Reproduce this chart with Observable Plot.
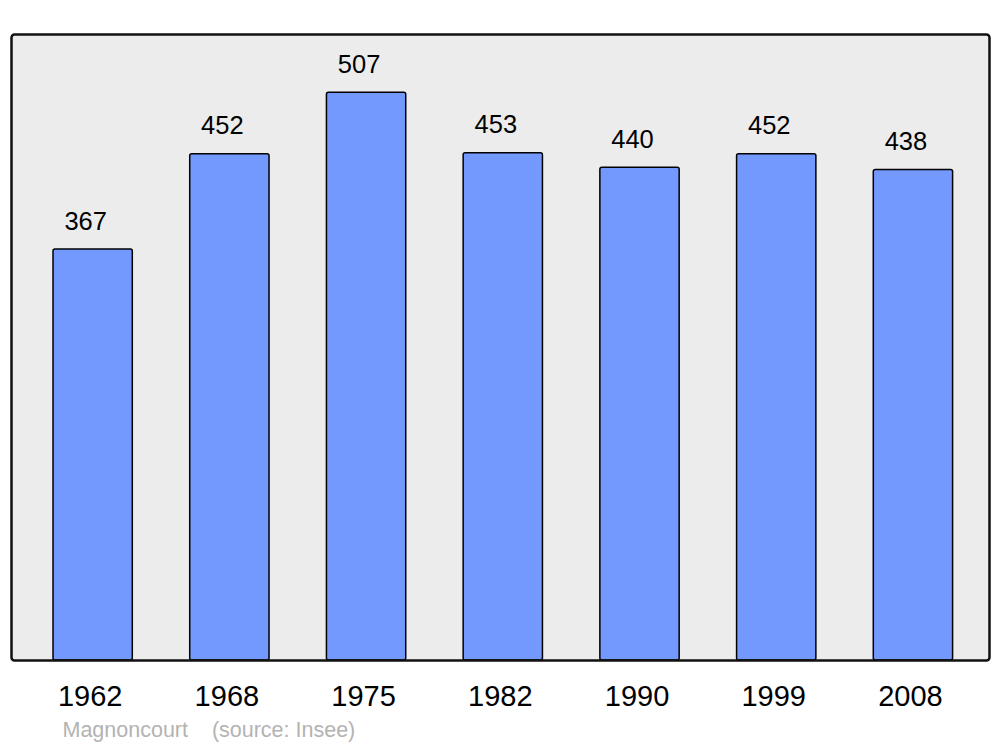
<!DOCTYPE html>
<html>
<head>
<meta charset="utf-8">
<script src="https://cdn.jsdelivr.net/npm/d3@7"></script>
<script src="https://cdn.jsdelivr.net/npm/@observablehq/plot@0.6"></script>
<style>
  html, body { margin: 0; padding: 0; background: #ffffff; }
  #chart svg { display: block; font-family: "Liberation Sans", Arial, sans-serif; }
</style>
</head>
<body>
<div id="chart"></div>
<script>
const years = ["1962", "1968", "1975", "1982", "1990", "1999", "2008"];
const population = [367, 452, 507, 453, 440, 452, 438];
const captionText = "Magnoncourt\u00a0\u00a0\u00a0\u00a0(source: Insee)";

const data = years.map((y, i) => ({year: y, value: population[i]}));

const chart = Plot.plot({
  width: 1000,
  height: 747,
  marginTop: 34,
  marginBottom: 87,
  marginLeft: 11,
  marginRight: 11,
  style: {fontFamily: "Liberation Sans, Arial, sans-serif", background: "#ffffff"},
  x: {domain: years, round: false, paddingInner: 0.42, paddingOuter: 0.21, insetLeft: 13.3, insetRight: 7.7, label: null},
  y: {domain: [0, 559], axis: null},
  marks: [
    Plot.frame({fill: "#ececec", stroke: "none", rx: 3}),
    Plot.barY(data, {x: "year", y: "value", fill: "#7399ff", stroke: "#000000", strokeWidth: 1.5, rx: 2}),
    Plot.text(data, {x: "year", y: "value", text: d => String(d.value), dy: -28, dx: -7.5, fontSize: 25.5, fill: "#000000"}),
    Plot.frame({stroke: "#111111", strokeWidth: 2.5, rx: 3}),
    Plot.axisX({tickSize: 0, tickPadding: 25, fontSize: 29, dx: -3, fill: "#000000", label: null}),
    Plot.text([captionText], {frameAnchor: "bottom-left", dx: 51, dy: 76, text: d => d, textAnchor: "start", fontSize: 21.5, fill: "#b3b3b3"})
  ]
});
document.getElementById("chart").appendChild(chart);
</script>
</body>
</html>
